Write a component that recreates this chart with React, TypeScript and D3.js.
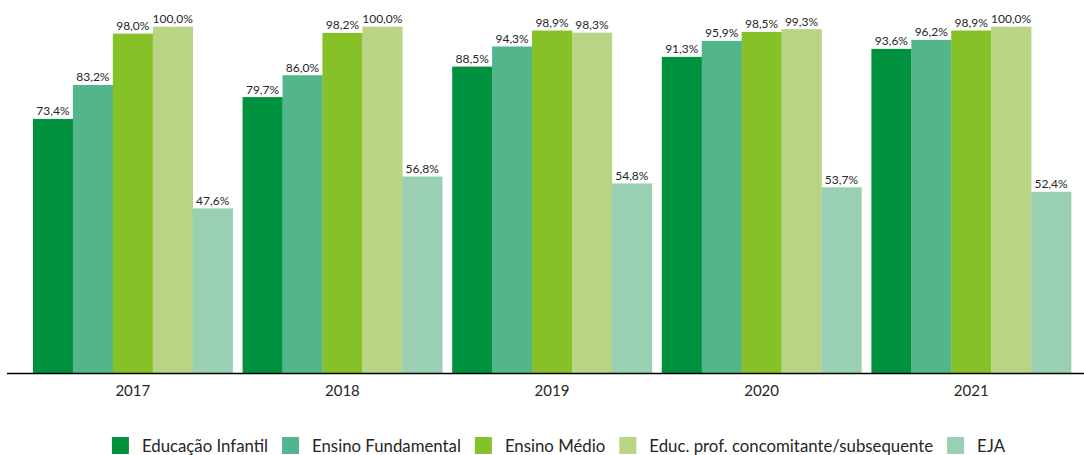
import React, { useEffect, useRef } from "react";
import * as d3 from "d3";

const years = ["2017", "2018", "2019", "2020", "2021"];
const seriesNames = [
  "Educação Infantil",
  "Ensino Fundamental",
  "Ensino Médio",
  "Educ. prof. concomitante/subsequente",
  "EJA",
];
const educacaoInfantil = [73.4, 79.7, 88.5, 91.3, 93.6];
const ensinoFundamental = [83.2, 86.0, 94.3, 95.9, 96.2];
const ensinoMedio = [98.0, 98.2, 98.9, 98.5, 98.9];
const educProf = [100.0, 100.0, 98.3, 99.3, 100.0];
const eja = [47.6, 56.8, 54.8, 53.7, 52.4];
const seriesValues = [educacaoInfantil, ensinoFundamental, ensinoMedio, educProf, eja];
const colors = ["#00923F", "#52B58B", "#86C128", "#B8D586", "#99D0B3"];

const W = 1084;
const H = 455;

export default function App() {
  const ref = useRef<SVGSVGElement | null>(null);

  useEffect(() => {
    document.body.style.margin = "0";
    const svg = d3.select(ref.current);
    svg.selectAll("*").remove();

    const x0 = d3
      .scaleBand<string>()
      .domain(years)
      .range([28, 1076])
      .paddingInner(10 / 210)
      .paddingOuter(5 / 210);
    const x1 = d3
      .scaleBand<string>()
      .domain(seriesNames)
      .range([0, x0.bandwidth()])
      .padding(0);
    const y = d3.scaleLinear().domain([0, 100]).range([373.5, 26.7]);

    const fmt = (v: number) => v.toFixed(1).replace(".", ",") + "%";

    const groups = svg
      .append("g")
      .selectAll("g")
      .data(years)
      .join("g")
      .attr("transform", (d) => `translate(${x0(d)},0)`);

    groups.each(function (year, yi) {
      const g = d3.select(this);
      seriesNames.forEach((s, si) => {
        const v = seriesValues[si][yi];
        g.append("rect")
          .attr("x", x1(s)!)
          .attr("y", y(v))
          .attr("width", x1.bandwidth() + 0.3)
          .attr("height", y(0) - y(v))
          .attr("fill", colors[si]);
        g.append("text")
          .attr("x", x1(s)! + x1.bandwidth() / 2)
          .attr("y", y(v) - 3.5)
          .attr("text-anchor", "middle")
          .attr("font-family", "Lato, 'Open Sans', sans-serif")
          .attr("font-size", 12)
          .attr("fill", "#262626")
          .text(fmt(v));
      });
    });

    // axis line
    svg
      .append("line")
      .attr("x1", 7)
      .attr("x2", 1084)
      .attr("y1", 373.5)
      .attr("y2", 373.5)
      .attr("stroke", "#000")
      .attr("stroke-width", 1.3);

    // year labels
    svg
      .append("g")
      .selectAll("text")
      .data(years)
      .join("text")
      .attr("x", (d) => x0(d)! + x0.bandwidth() / 2)
      .attr("y", 396)
      .attr("text-anchor", "middle")
      .attr("font-family", "Lato, 'Open Sans', sans-serif")
      .attr("font-size", 15)
      .attr("fill", "#262626")
      .text((d) => d);

    // legend
    const legend = svg.append("g");
    const items = legend
      .selectAll("g")
      .data(seriesNames)
      .join("g");
    items
      .append("rect")
      .attr("width", 17)
      .attr("height", 17)
      .attr("y", 437)
      .attr("fill", (_d, i) => colors[i]);
    const texts = items
      .append("text")
      .attr("x", 30)
      .attr("y", 451.5)
      .attr("font-family", "Lato, 'Open Sans', sans-serif")
      .attr("font-size", 16.8)
      .attr("fill", "#262626")
      .text((d) => d);
    const widths: number[] = [];
    texts.each(function () {
      widths.push((this as SVGTextElement).getComputedTextLength());
    });
    const gap = 14;
    const itemW = widths.map((w) => 30 + w);
    const total = d3.sum(itemW) + gap * (itemW.length - 1);
    let cx = 558.5 - total / 2;
    items.attr("transform", (_d, i) => {
      const t = `translate(${cx},0)`;
      cx += itemW[i] + gap;
      return t;
    });
  }, []);

  return (
    <svg
      ref={ref}
      width={W}
      height={H}
      style={{ display: "block", position: "absolute", left: 0, top: 0, background: "#fff" }}
    />
  );
}
